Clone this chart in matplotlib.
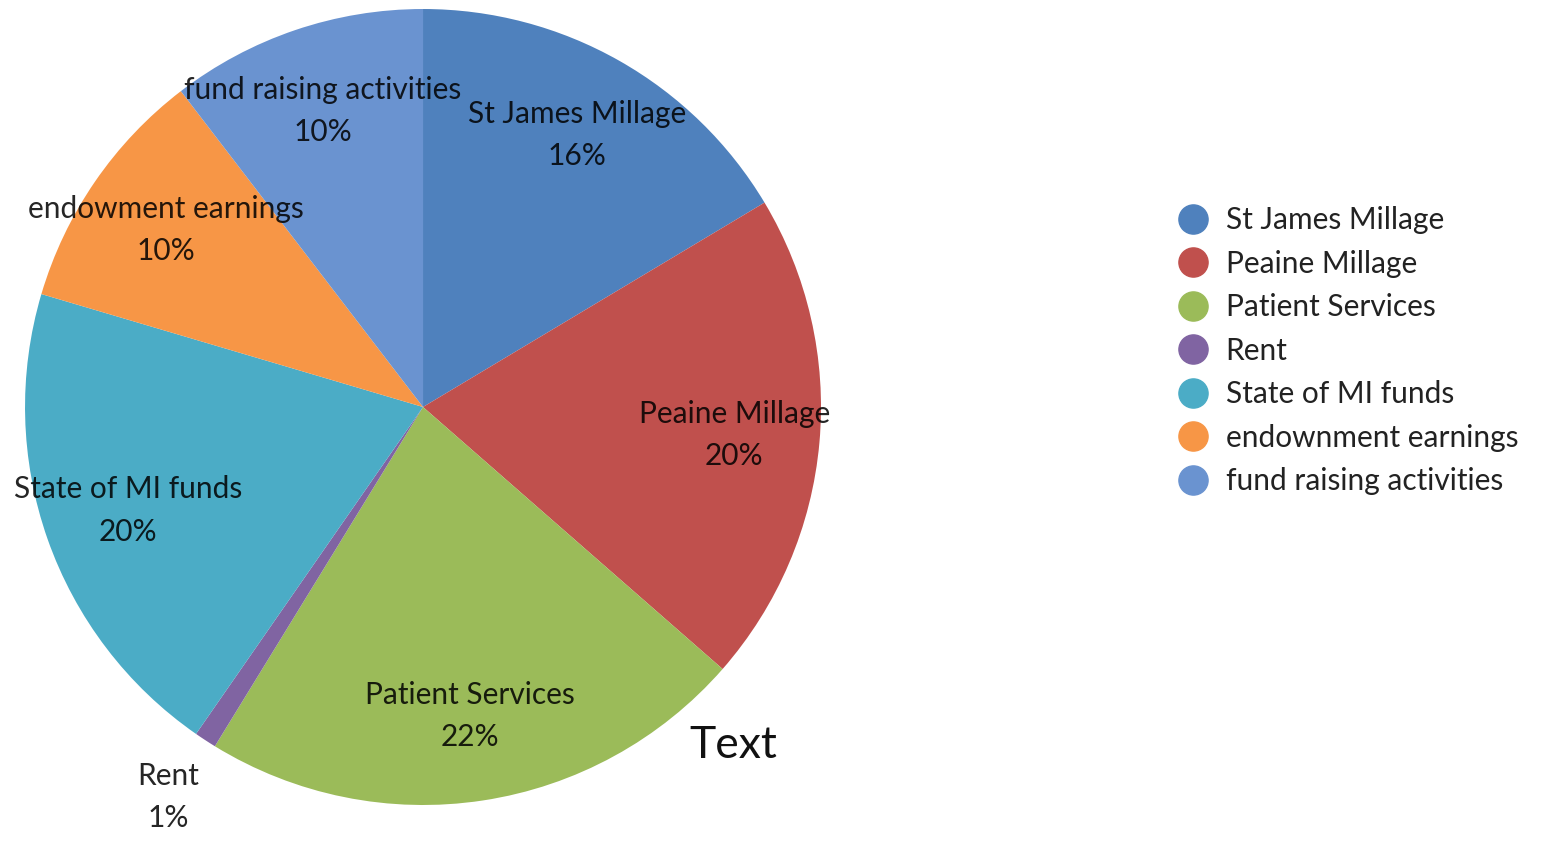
import numpy as np
import matplotlib.pyplot as plt
from matplotlib.lines import Line2D

plt.rcParams['font.family'] = ['Lato', 'DejaVu Sans']

categories = ['St James Millage', 'Peaine Millage', 'Patient Services', 'Rent',
              'State of MI funds', 'endownment earnings', 'fund raising activities']
values = [16.4, 20.0, 22.3, 0.9, 19.9, 10.0, 10.4]
colors = ['#4F81BD', '#C0504D', '#9BBB59', '#8064A2', '#4BACC6', '#F79646', '#6A93D0']
pie_labels = ['St James Millage', 'Peaine Millage', 'Patient Services', 'Rent',
              'State of MI funds', 'endowment earnings', 'fund raising activities']

fig = plt.figure(figsize=(15.45, 8.41), dpi=100)
ax = fig.add_axes([0.0162, 0.0428, 0.5152, 0.9465])

wedges, _ = ax.pie(values, colors=colors, startangle=90, counterclock=False,
                   radius=1.0, wedgeprops=dict(linewidth=0))
ax.set_xlim(-1, 1)
ax.set_ylim(-1, 1)
ax.set_aspect('equal')

total = sum(values)
for w, lab, v in zip(wedges, pie_labels, values):
    ang = np.deg2rad((w.theta1 + w.theta2) / 2)
    r = 1.17 if v < 2 else 0.785
    ax.text(r * np.cos(ang), r * np.sin(ang), f'{lab}\n{v / total * 100:.0f}%',
            ha='center', va='center', fontsize=21.5, color='black', alpha=0.85,
            linespacing=1.62, clip_on=False)

ax.text(0.78, -0.85, 'Text', fontsize=32, color='#111111', ha='center', va='center')

handles = [Line2D([0], [0], marker='o', linestyle='', markersize=21,
                  markerfacecolor=c, markeredgecolor=c) for c in colors]
fig.legend(handles, categories, loc='center left', bbox_to_anchor=(0.745, 0.583),
           frameon=False, fontsize=21.5, labelspacing=0.52, handletextpad=0.6,
           handlelength=1.0, labelcolor='#222222')

plt.savefig('out.png', dpi=100)
